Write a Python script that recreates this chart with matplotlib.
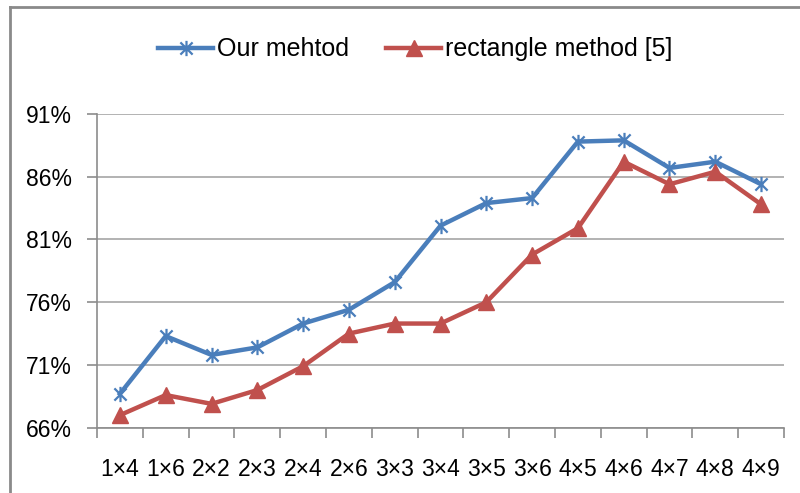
import numpy as np
import matplotlib
matplotlib.use("Agg")
import matplotlib.pyplot as plt
from matplotlib.path import Path
from matplotlib.lines import Line2D

# données
categories = ["1×4", "1×6", "2×2", "2×3", "2×4", "2×6", "3×3", "3×4",
              "3×5", "3×6", "4×5", "4×6", "4×7", "4×8", "4×9"]
our_method = [68.7, 73.3, 71.8, 72.4, 74.3, 75.4, 77.6, 82.1,
              83.9, 84.3, 88.8, 88.9, 86.7, 87.2, 85.4]
rect_method = [67.0, 68.6, 67.9, 69.0, 70.9, 73.5, 74.3, 74.3,
               76.0, 79.8, 81.9, 87.2, 85.4, 86.4, 83.8]
y_ticks = [66, 71, 76, 81, 86, 91]

plt.rcParams['font.family'] = ['Liberation Sans', 'DejaVu Sans']

blue = "#4A7EBB"
red = "#C0504D"
grid_col = "#A6A6A6"

# marqueur étoile façon Excel : x + trait vertical
star = Path([(-1, -1), (1, 1), (-1, 1), (1, -1), (0, -1.25), (0, 1.25)],
            [Path.MOVETO, Path.LINETO, Path.MOVETO, Path.LINETO, Path.MOVETO, Path.LINETO])

fig = plt.figure(figsize=(8, 4.93), dpi=100)
ax = fig.add_axes([97 / 800, 1 - 427.7 / 493, (784 - 97) / 800, (427.7 - 114) / 493])

x = np.arange(len(categories))
ax.plot(x, our_method, color=blue, lw=3.2, marker=star, markersize=11,
        markeredgewidth=1.6, markeredgecolor=blue, label="Our mehtod", zorder=3)
ax.plot(x, rect_method, color=red, lw=3.2, marker="^", markersize=11,
        markeredgecolor=red, markerfacecolor=red, label="rectangle method [5]", zorder=4)

ax.set_xlim(-0.5, len(categories) - 0.5)
ax.set_ylim(66, 91)
ax.set_yticks(y_ticks)
ax.set_yticklabels([f"{v}%" for v in y_ticks])
ax.set_xticks(x)
ax.set_xticklabels(categories)
ax.set_xticks(np.arange(-0.5, len(categories)), minor=True)

ax.grid(axis="y", color=grid_col, lw=1.2)
ax.set_axisbelow(True)
for s in ["top", "right"]:
    ax.spines[s].set_visible(False)
for s in ["left", "bottom"]:
    ax.spines[s].set_color("#8C8C8C")
    ax.spines[s].set_linewidth(1.2)

ax.tick_params(axis="x", which="major", length=0, pad=22, labelsize=16.5)
ax.tick_params(axis="x", which="minor", length=7, color="#8C8C8C", width=1.2)
ax.tick_params(axis="y", length=7, color="#8C8C8C", width=1.2, pad=11, labelsize=16.5)

ax.legend(loc="center", bbox_to_anchor=(0.519, 0.9), bbox_transform=fig.transFigure,
          ncol=2, frameon=False, fontsize=18, handlelength=2.2, handletextpad=0.15,
          columnspacing=1.5)

# cadre extérieur (coupé à droite et en bas)
fig.add_artist(Line2D([10 / 800, 10 / 800], [0, 1 - 7 / 493], color="#8A8A8A", lw=2,
                      transform=fig.transFigure))
fig.add_artist(Line2D([10 / 800, 1], [1 - 7 / 493, 1 - 7 / 493], color="#8A8A8A", lw=2,
                      transform=fig.transFigure))

fig.savefig("out.png", dpi=100)
